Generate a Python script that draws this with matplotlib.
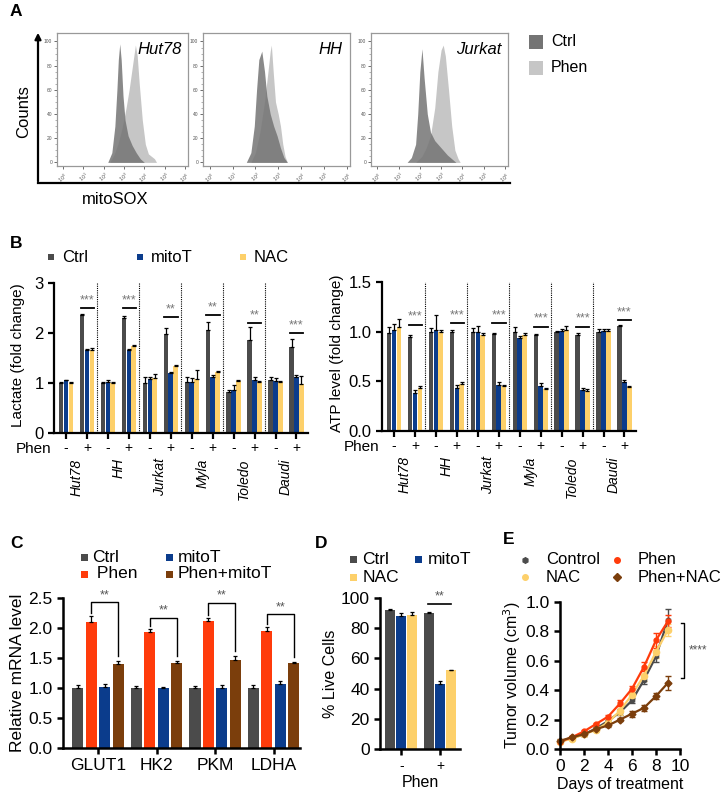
import numpy as np
import matplotlib
matplotlib.use("Agg")
import matplotlib.pyplot as plt
from matplotlib.patches import Rectangle

plt.rcParams['font.family'] = ['Liberation Sans', 'DejaVu Sans']

W, H = 721, 795

# colours
CTRL = '#4b4b4b'
MITOT = '#0b3c8c'
NAC = '#fdd06a'
PHEN = '#ff3b0b'
PHENMITO = '#7b3e0c'
H_CTRL = '#747474'
H_PHEN = '#c6c6c6'

# ---------------- data ----------------
# A: mitoSOX histograms (log10 intensity, % of max)
hist_names = ['Hut78', 'HH', 'Jurkat']
hut_ctrl_x = [2.2, 2.4, 2.55, 2.65, 2.72, 2.79, 2.86, 2.95, 3.05, 3.2, 3.4, 3.6, 3.8, 4.0]
hut_ctrl_y = [0, 8, 30, 60, 85, 98, 85, 55, 35, 22, 14, 8, 3, 0]
hut_phen_x = [2.3, 2.5, 2.7, 2.9, 3.1, 3.25, 3.4, 3.5, 3.56, 3.65, 3.75, 3.9, 4.05, 4.2, 4.35, 4.5, 4.6]
hut_phen_y = [0, 6, 15, 28, 45, 60, 78, 90, 97, 88, 65, 35, 15, 7, 5, 3, 0]
hh_ctrl_x = [1.6, 1.8, 1.95, 2.05, 2.15, 2.28, 2.4, 2.5, 2.65, 2.8, 2.95, 3.1, 3.25, 3.4]
hh_ctrl_y = [0, 8, 30, 60, 85, 92, 75, 55, 40, 30, 22, 12, 4, 0]
hh_phen_x = [1.8, 2.0, 2.2, 2.4, 2.55, 2.65, 2.7, 2.78, 2.88, 3.0, 3.1, 3.2, 3.3, 3.4]
hh_phen_y = [0, 8, 25, 50, 75, 92, 97, 75, 50, 40, 30, 15, 5, 0]
jur_ctrl_x = [1.4, 1.6, 1.8, 1.9, 2.0, 2.1, 2.2, 2.35, 2.5, 2.7, 2.9, 3.1, 3.3, 3.5, 3.7]
jur_ctrl_y = [0, 4, 15, 40, 75, 94, 70, 40, 25, 18, 14, 10, 6, 3, 0]
jur_phen_x = [1.8, 2.1, 2.3, 2.5, 2.7, 2.85, 3.0, 3.1, 3.2, 3.35, 3.5, 3.65, 3.8, 3.9]
jur_phen_y = [0, 5, 12, 22, 45, 75, 93, 97, 88, 60, 30, 10, 3, 0]

# B: six cell lines, each Phen - / +
cell_lines = ['Hut78', 'HH', 'Jurkat', 'Myla', 'Toledo', 'Daudi']
phen_signs = ['-', '+'] * 6

lac_ctrl = [1.0, 2.35, 1.0, 2.3, 0.99, 1.98, 1.02, 2.06, 0.83, 1.86, 1.05, 1.71]
lac_ctrl_err = [0.02, 0.02, 0.02, 0.04, 0.13, 0.12, 0.1, 0.16, 0.03, 0.25, 0.06, 0.16]
lac_mitot = [1.05, 1.65, 1.02, 1.65, 1.07, 1.19, 1.01, 1.12, 0.86, 1.06, 1.04, 1.12]
lac_mitot_err = [0.01, 0.02, 0.03, 0.02, 0.04, 0.03, 0.09, 0.03, 0.1, 0.05, 0.05, 0.03]
lac_nac = [1.0, 1.66, 1.0, 1.73, 1.1, 1.34, 1.07, 1.21, 1.04, 1.02, 1.02, 0.97]
lac_nac_err = [0.01, 0.04, 0.02, 0.03, 0.07, 0.02, 0.18, 0.02, 0.01, 0.01, 0.02, 0.17]
lac_sig = ['***', '***', '**', '**', '**', '***']
lac_sig_y = [2.5, 2.5, 2.32, 2.35, 2.19, 1.99]

atp_ctrl = [0.99, 0.95, 1.0, 1.0, 1.0, 0.98, 1.0, 0.97, 1.0, 0.97, 1.0, 1.06]
atp_ctrl_err = [0.06, 0.02, 0.04, 0.02, 0.04, 0.01, 0.05, 0.01, 0.01, 0.02, 0.03, 0.01]
atp_mitot = [1.02, 0.38, 1.02, 0.43, 1.0, 0.46, 0.94, 0.45, 1.01, 0.41, 1.01, 0.49]
atp_mitot_err = [0.06, 0.03, 0.15, 0.03, 0.06, 0.03, 0.02, 0.03, 0.02, 0.02, 0.02, 0.02]
atp_nac = [1.05, 0.43, 1.0, 0.47, 0.97, 0.45, 0.97, 0.42, 1.02, 0.40, 1.01, 0.44]
atp_nac_err = [0.08, 0.02, 0.02, 0.02, 0.02, 0.01, 0.02, 0.01, 0.04, 0.02, 0.02, 0.01]
atp_sig = ['***'] * 6
atp_sig_y = [1.07, 1.09, 1.09, 1.05, 1.05, 1.12]

# C: relative mRNA
genes = ['GLUT1', 'HK2', 'PKM', 'LDHA']
mrna_ctrl = [1.0, 1.0, 1.0, 1.0]
mrna_ctrl_err = [0.05, 0.04, 0.03, 0.05]
mrna_phen = [2.1, 1.93, 2.12, 1.95]
mrna_phen_err = [0.1, 0.05, 0.05, 0.06]
mrna_mitot = [1.02, 1.0, 1.0, 1.06]
mrna_mitot_err = [0.05, 0.01, 0.05, 0.05]
mrna_phenmito = [1.4, 1.42, 1.46, 1.41]
mrna_phenmito_err = [0.05, 0.03, 0.07, 0.03]
mrna_sig_y = [2.43, 2.17, 2.42, 2.23]

# D: % live cells
live_groups = ['-', '+']
live_ctrl = [92, 90]
live_ctrl_err = [0.8, 0.6]
live_mitot = [88, 43]
live_mitot_err = [2.0, 1.8]
live_nac = [89, 52]
live_nac_err = [1.5, 0.6]

# E: tumour volume
days = [0, 1, 2, 3, 4, 5, 6, 7, 8, 9]
vol_control = [0.05, 0.075, 0.10, 0.14, 0.19, 0.25, 0.33, 0.47, 0.63, 0.88]
vol_control_err = [0.01, 0.01, 0.01, 0.01, 0.01, 0.02, 0.02, 0.03, 0.04, 0.07]
vol_phen = [0.05, 0.08, 0.12, 0.17, 0.22, 0.31, 0.41, 0.56, 0.74, 0.87]
vol_phen_err = [0.01, 0.01, 0.01, 0.01, 0.01, 0.02, 0.02, 0.03, 0.05, 0.04]
vol_nac = [0.05, 0.07, 0.10, 0.13, 0.18, 0.26, 0.37, 0.50, 0.66, 0.81]
vol_nac_err = [0.01, 0.01, 0.01, 0.01, 0.02, 0.03, 0.03, 0.04, 0.04, 0.04]
vol_phennac = [0.055, 0.08, 0.10, 0.135, 0.16, 0.20, 0.24, 0.28, 0.36, 0.45]
vol_phennac_err = [0.01, 0.01, 0.01, 0.01, 0.01, 0.01, 0.02, 0.02, 0.02, 0.05]


def px(l, t, r, b):
    return [l / W, 1 - b / H, (r - l) / W, (b - t) / H]


def style_prism(ax, lw=1.6):
    for s in ['top', 'right']:
        ax.spines[s].set_visible(False)
    for s in ['left', 'bottom']:
        ax.spines[s].set_linewidth(lw)
    ax.tick_params(width=lw, length=4, colors='black')


def bars_up(ax, x, vals, errs, color, width):
    ax.bar(x, vals, width, color=color, zorder=2)
    ax.errorbar(x, vals, yerr=[np.zeros(len(vals)), errs], fmt='none',
                ecolor='black', elinewidth=0.9, capsize=1.5, capthick=0.9, zorder=3)


fig = plt.figure(figsize=(W / 100, H / 100), dpi=100)

# ---------------- A ----------------
hist_data = [(hut_ctrl_x, hut_ctrl_y, hut_phen_x, hut_phen_y),
             (hh_ctrl_x, hh_ctrl_y, hh_phen_x, hh_phen_y),
             (jur_ctrl_x, jur_ctrl_y, jur_phen_x, jur_phen_y)]
hist_boxes = [(57, 33, 188, 166), (203, 33, 350, 166), (371, 33, 508, 166)]
for name, (cx, cy, phx, phy), box in zip(hist_names, hist_data, hist_boxes):
    ax = fig.add_axes(px(*box))
    ax.fill_between(phx, phy, color=H_PHEN, lw=0, zorder=1)
    ax.fill_between(cx, cy, color=H_CTRL, alpha=0.85, lw=0, zorder=2)
    ax.set_xlim(-0.3, 6.15)
    ax.set_ylim(-3, 107)
    ax.set_xticks(range(7))
    ax.set_xticklabels([r'$10^{%d}$' % i for i in range(7)], fontsize=3.5, rotation=40)
    ax.set_yticks([0, 20, 40, 60, 80, 100])
    ax.set_yticklabels(['0', '20', '40', '60', '80', '100'], fontsize=3.5)
    ax.set_yticks(np.arange(0, 101, 5), minor=True)
    ax.tick_params(length=2.5, width=0.6, pad=1, colors='#555555')
    ax.tick_params(which='minor', length=1.2, width=0.4, colors='#777777')
    for s in ax.spines.values():
        s.set_color('#999999')
        s.set_linewidth(0.9)
    ax.text(0.95, 0.93, name, transform=ax.transAxes, ha='right', va='top',
            fontsize=12, style='italic')

# ---------------- B ----------------
groups = np.arange(12)
bw = 0.215
off = 0.232


def panel_b(ax, c, ce, m, me, n, ne, sig, sig_y, ylim, yticks, ylabels, ylabel):
    style_prism(ax)
    bars_up(ax, groups - off, c, ce, CTRL, bw)
    bars_up(ax, groups, m, me, MITOT, bw)
    bars_up(ax, groups + off, n, ne, NAC, bw)
    for xs in [1.5, 3.5, 5.5, 7.5, 9.5]:
        ax.plot([xs, xs], [0, ylim[1]], ls=(0, (1, 1)), color='black', lw=0.8, zorder=4)
    span = ylim[1]
    for i, (s, y) in enumerate(zip(sig, sig_y)):
        gx = 2 * i + 1
        ax.plot([gx - 0.3, gx + 0.33], [y, y], color='black', lw=1.3, zorder=4)
        ax.text(gx, y + span * 0.012, s, ha='center', va='bottom', fontsize=9,
                color='#777777')
    ax.set_xlim(-0.57, 11.55)
    ax.set_ylim(*ylim)
    ax.set_yticks(yticks)
    ax.set_yticklabels(ylabels, fontsize=12)
    ax.set_xticks(groups)
    ax.set_xticklabels(phen_signs, fontsize=10)
    ax.tick_params(axis='x', pad=2)
    ax.set_ylabel(ylabel, fontsize=11, labelpad=3)
    ax.yaxis.set_label_coords(-0.115, 0.52)
    ax.text(-0.012, -0.105, 'Phen', transform=ax.transAxes, ha='right', va='center',
            fontsize=11)
    for i, name in enumerate(cell_lines):
        ax.text(2 * i + 0.5, -0.17, name, transform=ax.get_xaxis_transform(),
                rotation=90, ha='center', va='top', fontsize=10, style='italic')


ax_lac = fig.add_axes(px(54, 283, 308, 433))
panel_b(ax_lac, lac_ctrl, lac_ctrl_err, lac_mitot, lac_mitot_err, lac_nac, lac_nac_err,
        lac_sig, lac_sig_y, (0, 3), [0, 1, 2, 3], ['0', '1', '2', '3'],
        'Lactate (fold change)')

ax_atp = fig.add_axes(px(382, 282, 636, 431))
panel_b(ax_atp, atp_ctrl, atp_ctrl_err, atp_mitot, atp_mitot_err, atp_nac, atp_nac_err,
        atp_sig, atp_sig_y, (0, 1.5), [0, 0.5, 1.0, 1.5], ['0.0', '0.5', '1.0', '1.5'],
        'ATP level (fold change)')
ax_atp.yaxis.set_label_coords(-0.15, 0.52)

# ---------------- C ----------------
ax_c = fig.add_axes(px(63, 598, 300, 748))
style_prism(ax_c, 1.8)
gx = np.arange(len(genes))
cw = 0.19
bars_up(ax_c, gx - 0.345, mrna_ctrl, mrna_ctrl_err, CTRL, cw)
bars_up(ax_c, gx - 0.115, mrna_phen, mrna_phen_err, PHEN, cw)
bars_up(ax_c, gx + 0.115, mrna_mitot, mrna_mitot_err, MITOT, cw)
bars_up(ax_c, gx + 0.345, mrna_phenmito, mrna_phenmito_err, PHENMITO, cw)
for i, y in enumerate(mrna_sig_y):
    x1, x2 = i - 0.115, i + 0.345
    ax_c.plot([x1, x1, x2, x2],
              [mrna_phen[i] + mrna_phen_err[i] + 0.05, y, y,
               mrna_phenmito[i] + mrna_phenmito_err[i] + 0.08],
              color='black', lw=1.0, zorder=4, clip_on=False)
    ax_c.text((x1 + x2) / 2, y + 0.02, '**', ha='center', va='bottom', fontsize=9,
              color='#555555')
ax_c.set_xlim(-0.6, 3.45)
ax_c.set_ylim(0, 2.5)
ax_c.set_yticks([0, 0.5, 1.0, 1.5, 2.0, 2.5])
ax_c.set_yticklabels(['0.0', '0.5', '1.0', '1.5', '2.0', '2.5'], fontsize=12.5)
ax_c.set_xticks(gx)
ax_c.set_xticklabels(genes, fontsize=12.5)
ax_c.set_ylabel('Relative mRNA level', fontsize=12.5, labelpad=2)

# ---------------- D ----------------
ax_d = fig.add_axes(px(380, 598, 460, 749))
style_prism(ax_d, 1.8)
dx = np.arange(len(live_groups))
dw = 0.27
bars_up(ax_d, dx - 0.285, live_ctrl, live_ctrl_err, CTRL, dw)
bars_up(ax_d, dx, live_mitot, live_mitot_err, MITOT, dw)
bars_up(ax_d, dx + 0.285, live_nac, live_nac_err, NAC, dw)
ax_d.plot([1 - 0.3, 1 + 0.3], [96, 96], color='black', lw=1.2)
ax_d.text(1, 97, '**', ha='center', va='bottom', fontsize=9, color='#555555')
ax_d.set_xlim(-0.55, 1.52)
ax_d.set_ylim(0, 100)
ax_d.set_yticks([0, 20, 40, 60, 80, 100])
ax_d.set_yticklabels(['0', '20', '40', '60', '80', '100'], fontsize=12.5)
ax_d.set_xticks(dx)
ax_d.set_xticklabels(live_groups, fontsize=10)
ax_d.set_xlabel('Phen', fontsize=11.5, labelpad=1)
ax_d.set_ylabel('% Live Cells', fontsize=11.5, labelpad=2)

# ---------------- E ----------------
ax_e = fig.add_axes(px(560, 602, 680, 749))
style_prism(ax_e, 1.8)
series_e = [(vol_control, vol_control_err, CTRL, 'h', 3.5),
            (vol_nac, vol_nac_err, NAC, 'o', 4.5),
            (vol_phen, vol_phen_err, PHEN, 'o', 3.5),
            (vol_phennac, vol_phennac_err, PHENMITO, 'D', 3.5)]
for v, e, col, mk, ms in series_e:
    ax_e.errorbar(days, v, yerr=e, color=col, marker=mk, ms=ms, lw=1.6,
                  elinewidth=1.0, capsize=2.5, capthick=1.0, clip_on=False)
ax_e.plot([10.1, 10.35, 10.35, 10.1], [0.86, 0.86, 0.48, 0.48], color='black',
          lw=1.0, clip_on=False)
ax_e.text(10.7, 0.67, '****', ha='left', va='center', fontsize=8.5, color='#555555')
ax_e.set_xlim(0, 10)
ax_e.set_ylim(0, 1.0)
ax_e.set_xticks([0, 2, 4, 6, 8, 10])
ax_e.set_xticklabels(['0', '2', '4', '6', '8', '10'], fontsize=12.5)
ax_e.set_yticks([0, 0.2, 0.4, 0.6, 0.8, 1.0])
ax_e.set_yticklabels(['0.0', '0.2', '0.4', '0.6', '0.8', '1.0'], fontsize=12.5)
ax_e.set_xlabel('Days of treatment', fontsize=11.5, labelpad=2)
ax_e.set_ylabel('Tumor volume (cm$^3$)', fontsize=11.5, labelpad=2)

# ---------------- overlay (panel letters, legends, A frame) ----------------
ov = fig.add_axes([0, 0, 1, 1], zorder=10)
ov.set_xlim(0, W)
ov.set_ylim(H, 0)
ov.axis('off')
ov.patch.set_alpha(0)

for letter, (x, y) in zip('ABCDE', [(10, 12), (10, 243), (10, 543), (315, 543), (503, 540)]):
    ov.text(x, y, letter, fontsize=12.5, fontweight='bold', ha='left', va='center')

# A frame with arrow
ov.plot([38, 510], [183, 183], color='black', lw=1.6)
ov.annotate('', xy=(38, 30), xytext=(38, 184),
            arrowprops=dict(arrowstyle='-|>', color='black', lw=1.6, mutation_scale=9))
ov.text(24, 112, 'Counts', rotation=90, ha='center', va='center', fontsize=12)
ov.text(82, 199, 'mitoSOX', ha='left', va='center', fontsize=12)


def leg_sq(x, y, size, color, label, fs, gap=5):
    ov.add_patch(Rectangle((x - size / 2, y - size / 2), size, size, color=color, lw=0))
    ov.text(x + size / 2 + gap, y, label, ha='left', va='center', fontsize=fs)


leg_sq(536, 42, 14, H_CTRL, 'Ctrl', 11.5, 8)
leg_sq(536, 68, 14, H_PHEN, 'Phen', 11.5, 8)

leg_sq(51, 257, 6, CTRL, 'Ctrl', 12, 8)
leg_sq(140, 257, 6, MITOT, 'mitoT', 12, 8)
leg_sq(243, 257, 6, NAC, 'NAC', 12, 8)

leg_sq(84, 557, 7, CTRL, 'Ctrl', 12.5, 5)
leg_sq(169, 557, 7, MITOT, 'mitoT', 12.5, 5)
leg_sq(84, 574, 7, PHEN, ' Phen', 12.5, 5)
leg_sq(169, 574, 7, PHENMITO, 'Phen+mitoT', 12.5, 5)

leg_sq(353, 559, 7, CTRL, 'Ctrl', 12.5, 6)
leg_sq(418, 559, 7, MITOT, 'mitoT', 12.5, 6)
leg_sq(353, 577, 7, NAC, 'NAC', 12.5, 6)

for (x, y), col, mk, label in zip([(525, 560), (525, 577), (617, 560), (617, 577)],
                                  [CTRL, NAC, PHEN, PHENMITO],
                                  ['h', 'o', 'o', 'D'],
                                  ['Control', 'NAC', 'Phen', 'Phen+NAC']):
    ov.plot([x], [y], marker=mk, color=col, ms=4)
    ov.text(x + 21, y, label, ha='left', va='center', fontsize=12)

fig.savefig('out.png', dpi=100)
